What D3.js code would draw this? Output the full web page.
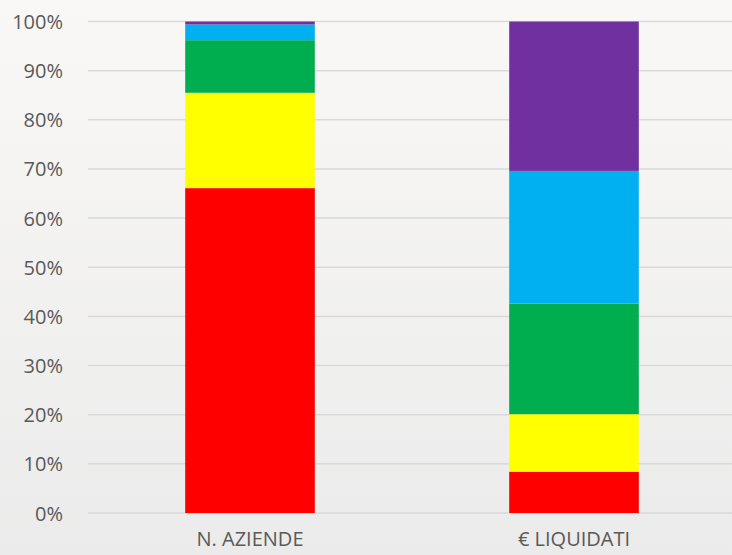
<!DOCTYPE html>
<html>
<head>
<meta charset="utf-8">
<script src="https://cdn.jsdelivr.net/npm/d3@7"></script>
<style>
  body { margin: 0; }
  svg { display: block; }
</style>
</head>
<body>
<div id="chart"></div>
<script>
// categories and series (share of total, %)
var categories = ["N. AZIENDE", "€ LIQUIDATI"];
var seriesNames = ["s1", "s2", "s3", "s4", "s5"];
var seriesColors = ["#ff0000", "#ffff00", "#00ad4f", "#00b0f0", "#7030a0"];
var s1 = [66.1, 8.4];
var s2 = [19.4, 11.7];
var s3 = [10.7, 22.5];
var s4 = [3.2, 27.0];
var s5 = [0.6, 30.4];
var tickValues = [0, 10, 20, 30, 40, 50, 60, 70, 80, 90, 100];

var W = 732, H = 555;
var margin = { top: 21.5, right: 0, bottom: 42, left: 88 },
    width = W - margin.left - margin.right,
    height = H - margin.top - margin.bottom;

var svg = d3.select("#chart")
    .append("svg")
    .attr("width", W)
    .attr("height", H);

// background gradient
var defs = svg.append("defs");
var grad = defs.append("linearGradient")
    .attr("id", "bg")
    .attr("x1", 0).attr("y1", 0).attr("x2", 0).attr("y2", 1);
grad.append("stop").attr("offset", "0%").attr("stop-color", "#f9f8f6");
grad.append("stop").attr("offset", "100%").attr("stop-color", "#ebebeb");
svg.append("rect")
    .attr("width", W).attr("height", H)
    .attr("fill", "url(#bg)");

var g = svg.append("g")
    .attr("transform", "translate(" + margin.left + "," + margin.top + ")");

var x = d3.scaleBand()
    .domain(categories)
    .range([0, 648])
    .paddingInner(0.6)
    .paddingOuter(0.3);

var y = d3.scaleLinear()
    .domain([0, 100])
    .range([height, 0]);

// gridlines
g.selectAll(".grid")
    .data(tickValues)
    .enter()
    .append("line")
    .attr("x1", 0)
    .attr("x2", width)
    .attr("y1", function(d) { return y(d); })
    .attr("y2", function(d) { return y(d); })
    .attr("stroke", "#d9d9d9")
    .attr("stroke-width", 1.5);

// y axis labels
var yAxis = g.append("g")
    .attr("transform", "translate(-22,0)")
    .call(d3.axisLeft(y).tickValues(tickValues).tickSize(0).tickFormat(function(d) { return d + "%"; }));
yAxis.select(".domain").remove();
yAxis.selectAll("text")
    .attr("fill", "#595959")
    .style("font-family", "'Open Sans', sans-serif")
    .style("font-size", "20px")
    .attr("dy", "0.35em");

// stacked data
var rows = categories.map(function(c, i) {
    return { cat: c, s1: s1[i], s2: s2[i], s3: s3[i], s4: s4[i], s5: s5[i] };
});
var stacked = d3.stack().keys(seriesNames)(rows);

g.selectAll(".layer")
    .data(stacked)
    .enter()
    .append("g")
    .attr("fill", function(d, i) { return seriesColors[i]; })
    .selectAll("rect")
    .data(function(d) { return d; })
    .enter()
    .append("rect")
    .attr("x", function(d) { return x(d.data.cat); })
    .attr("width", x.bandwidth())
    .attr("y", function(d) { return y(d[1]); })
    .attr("height", function(d) { return y(d[0]) - y(d[1]); });

// x axis labels
var xAxis = g.append("g")
    .attr("transform", "translate(0," + height + ")")
    .call(d3.axisBottom(x).tickSize(0));
xAxis.select(".domain").remove();
xAxis.selectAll("text")
    .attr("fill", "#595959")
    .attr("y", 19)
    .style("font-family", "'Open Sans', sans-serif")
    .style("font-size", "20px");
</script>
</body>
</html>
